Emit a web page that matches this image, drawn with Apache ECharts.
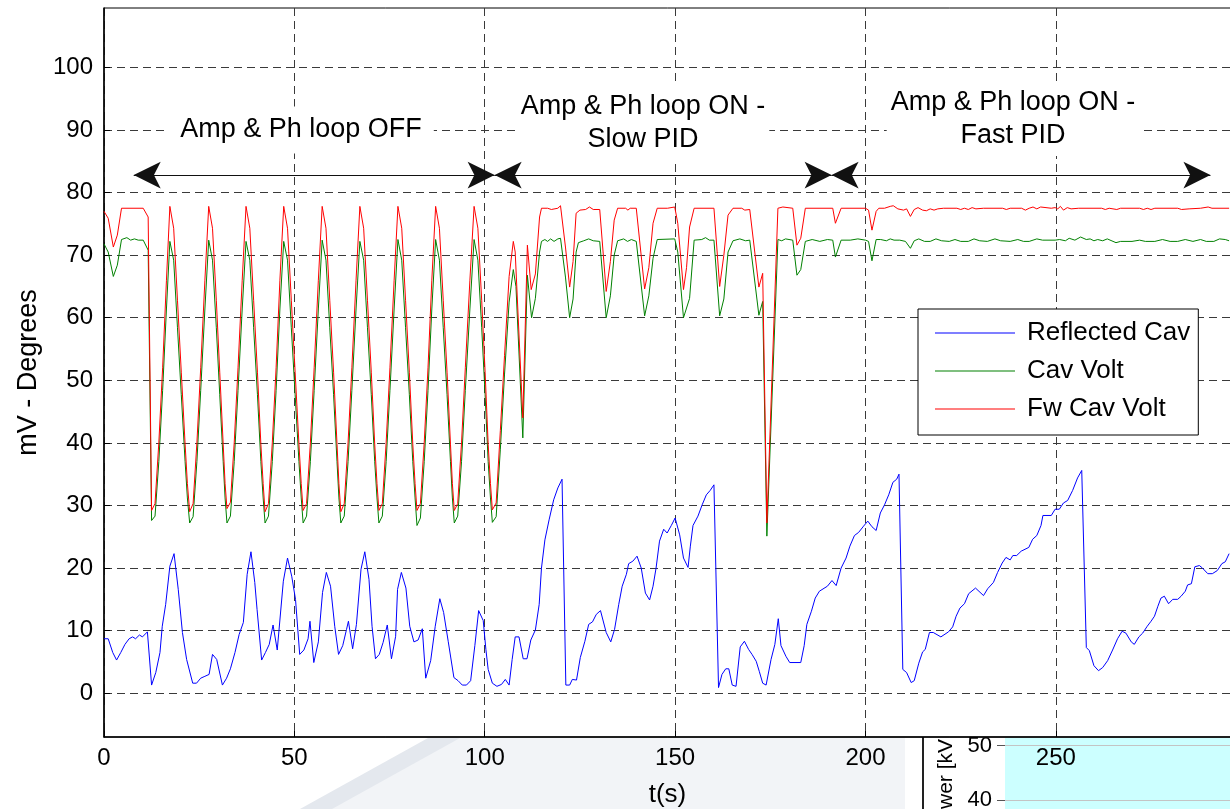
<!DOCTYPE html>
<html>
<head>
<meta charset="utf-8">
<title>Amp & Ph loop</title>
<script src="https://cdn.jsdelivr.net/npm/echarts@6.0.0/dist/echarts.min.js"></script>
<style>
  html, body { margin: 0; padding: 0; background: #fff; }
  #chart { width: 1230px; height: 809px; }
</style>
</head>
<body>
<div id="chart"></div>
<script>
// [t(s), value]
const reflectedCav = [
  [0,8.7],[1.1,8.7],[2.3,6.5],[3.3,5.3],[4.4,6.5],[5.5,7.8],[6.6,8.7],[7.5,9.0],[8.3,8.7],[9.3,9.3],[10.1,9.0],[11.4,9.8],
  [12.5,1.3],[13.6,3.3],[14.7,6.5],[15.3,10.7],[16.2,14.2],[17.3,20.3],[18.4,22.3],[19.5,16.6],[20.6,9.7],[21.7,5.4],
  [23.3,1.6],[24.3,1.6],[25.4,2.4],[26.5,2.7],[27.6,3.0],[28.5,6.2],[29.6,5.4],[31.1,1.3],[32.2,2.4],[33.2,3.9],[34.4,6.5],
  [35.5,9.4],[36.6,11.3],[37.6,19.0],[38.6,22.6],[39.6,17.7],[40.2,13.4],[41.4,5.3],[42.4,6.5],[43.4,7.8],[44.4,10.9],
  [45.5,6.9],[47.1,17.9],[48.2,21.6],[49.3,18.7],[50.3,15.0],[51.4,6.2],[52.5,6.9],[53.6,8.7],[54.1,11.5],[55.1,4.9],
  [56.3,8.2],[57.4,16.1],[58.4,19.3],[59.5,17.1],[60.6,10.7],[61.6,6.2],[62.7,7.6],[63.7,10.2],[64.2,11.5],[65.3,7.1],
  [66.3,11.0],[67.5,19.8],[68.5,22.6],[69.6,18.2],[70.4,10.7],[71.3,5.5],[72.3,6.2],[73.3,8.1],[74.4,10.9],[75.5,5.5],
  [76.6,9.1],[77.1,16.6],[78.1,19.3],[79.3,16.8],[80.3,10.7],[81.4,8.2],[82.5,8.5],[83.6,10.3],[84.5,2.4],[85.8,5.2],
  [87.0,10.7],[88.2,15.1],[89.2,12.9],[90.4,8.3],[91.9,2.5],[93.0,2.0],[94.1,1.3],[95.2,1.3],[96.3,2.0],[97.4,7.6],
  [98.4,13.2],[99.6,11.6],[100.3,7.0],[100.9,3.8],[102.0,1.6],[103.2,1.1],[104.4,1.4],[105.4,2.2],[106.4,1.3],[107.2,5.4],
  [108.0,9.0],[109.0,9.0],[110.1,5.5],[111.1,5.5],[112.1,8.5],[113.3,10.1],[114.3,14.2],[114.9,20.0],[115.8,24.5],
  [116.9,27.7],[118.1,30.9],[119.2,32.8],[120.3,34.2],[121.3,1.3],[122.3,1.3],[123.0,2.2],[124.1,2.1],[125.1,5.7],
  [126.3,8.3],[127.3,11.0],[128.3,11.4],[129.3,12.6],[130.4,13.2],[131.9,9.7],[133.1,8.2],[134.1,10.2],[135.2,14.2],
  [136.1,17.1],[137.2,19.0],[137.8,20.7],[138.9,21.1],[140.0,21.9],[141.1,20.0],[142.2,16.0],[143.3,14.9],[144.2,17.1],
  [145.0,20.0],[145.9,24.3],[147.0,26.2],[147.9,25.6],[149.0,26.8],[150.0,28.0],[151.2,25.3],[152.2,21.6],[153.4,20.1],
  [154.0,23.5],[154.7,26.8],[156.0,28.3],[157.1,30.1],[158.2,31.7],[159.2,32.4],[160.2,33.3],[161.4,0.9],[162.3,3.0],
  [163.3,3.9],[164.1,3.9],[165.0,1.3],[166.0,1.1],[167.1,7.4],[168.2,8.3],[169.3,7.0],[170.2,6.2],[171.3,5.1],[172.1,3.5],
  [173.0,1.6],[173.9,1.3],[175.2,5.4],[176.2,7.8],[177.1,11.9],[177.8,7.6],[179.1,5.9],[180.1,4.9],[183.0,4.9],[183.9,7.6],
  [184.6,11.0],[185.8,13.1],[186.8,15.2],[187.9,16.3],[190.0,17.1],[191.2,18.0],[192.3,17.2],[193.6,20.0],[194.9,21.6],
  [195.9,23.5],[197.1,25.2],[198.2,25.7],[199.5,26.7],[200.6,27.5],[201.7,26.6],[202.8,26.0],[203.9,28.8],[205.0,30.1],
  [206.1,31.7],[207.2,33.7],[208.2,34.2],[208.8,35.0],[209.8,3.8],[210.8,3.3],[212.0,1.7],[212.8,2.0],[214.0,4.8],
  [215.0,6.6],[215.7,7.0],[216.8,9.7],[217.8,9.7],[219.8,9.0],[221.8,9.8],[222.9,10.6],[223.8,12.3],[224.8,13.6],
  [226.0,14.3],[227.1,15.9],[228.9,16.8],[231.0,15.6],[232.1,16.7],[233.6,17.7],[234.7,19.3],[235.9,20.8],[236.9,21.7],
  [238.0,21.3],[238.7,22.0],[239.7,22.0],[240.9,22.7],[242.9,23.3],[243.9,24.6],[245.0,25.2],[246.1,26.8],[246.6,28.4],
  [248.8,28.4],[249.8,29.4],[250.9,29.4],[252.0,30.4],[253.1,30.8],[254.4,32.4],[255.7,34.4],[256.8,35.6],[258.0,7.3],
  [258.8,6.8],[260.0,4.4],[261.2,3.6],[262.3,4.1],[263.6,5.2],[264.9,6.9],[266.2,8.7],[267.4,9.9],[268.4,9.6],[269.8,8.2],
  [270.6,7.8],[271.8,9.0],[272.8,9.6],[274.0,10.7],[275.0,11.5],[275.9,12.3],[276.8,13.9],[277.6,15.2],[278.5,15.5],
  [279.6,14.3],[280.7,15.0],[282.0,15.0],[282.9,15.5],[284.0,16.3],[284.6,17.3],[285.6,17.5],[286.5,20.2],[287.7,20.4],
  [288.5,20.0],[289.9,19.1],[291.1,19.1],[292.4,19.6],[293.6,20.7],[294.5,21.0],[295.5,22.3]
];

const cavVolt = [
  [0,71.8],[1.1,70.5],[2.45,66.6],[3.5,68.4],[4.6,72.5],[6.0,72.8],[7.0,72.4],[8.0,72.6],[9.0,72.4],[10.3,72.4],[11.6,70.8],
  [12.5,27.6],[13.4,28.3],[14.4,37],[15.4,48.4],[16.4,61.4],[17.3,72.2],[18.3,69.2],[19.3,58.4],[20.3,47.7],[21.3,37],[21.9,31.2],
  [22.5,27.2],[23.4,28.2],[24.4,37],[25.4,48.4],[26.5,61.4],[27.5,72.4],[28.5,69.2],[29.5,58.4],[30.4,47.7],[31.3,37],[31.8,31.2],
  [32.3,27.2],[33.2,28.3],[34.2,37],[35.2,48.4],[36.3,61.4],[37.3,72.2],[38.3,69.2],[39.3,58.4],[40.3,47.7],[41.2,37],[41.8,31.2],
  [42.3,27.2],[43.2,28.3],[44.2,37],[45.2,48.4],[46.2,61.4],[47.2,72.2],[48.2,69.2],[49.2,58.4],[50.2,47.7],[51.2,37],[51.8,31.2],
  [52.3,27.2],[53.2,28.3],[54.2,37],[55.2,48.4],[56.3,61.4],[57.3,72.4],[58.3,69.2],[59.3,58.4],[60.3,47.7],[61.2,37],[61.7,31.2],
  [62.2,27.2],[63.1,28.3],[64.1,37],[65.1,48.4],[66.2,61.4],[67.2,72.2],[68.2,69.2],[69.2,58.4],[70.2,47.7],[71.1,37],[71.7,31.2],
  [72.2,27.2],[73.1,28.3],[74.1,37],[75.1,48.4],[76.2,61.4],[77.2,72.5],[78.2,69.2],[79.2,58.4],[80.2,47.7],[81.1,37],[81.7,31.2],
  [82.2,26.8],[83.1,28.0],[84.1,37],[85.1,48.4],[86.1,61.4],[87.1,72.5],[88.1,69.2],[89.1,58.4],[90.1,47.7],[91.0,37],[91.5,31.2],
  [92.0,27.2],[92.9,28.3],[93.9,37],[94.9,48.4],[96.1,61.4],[97.2,72.5],[98.2,69.2],[99.2,58.4],[100.1,47.7],[100.9,37],[101.5,31.2],
  [102.0,27.3],[103.0,28.2],[104.1,39],[105.2,51],[106.4,62.5],[107.5,67.7],[108.2,65.0],[110.0,40.8],[111.2,66.8],
  [112.3,60.0],[113.3,63.1],[114.4,70.5],[114.9,72.2],[115.8,72.5],[116.5,72.2],[117.3,72.6],[118.2,72.2],[119.2,72.6],
  [119.9,72.7],[121.2,66.5],[122.3,60.0],[123.2,63.0],[124.0,70.5],[124.6,72.0],[126.0,72.3],[127.3,72.6],[128.5,72.3],
  [130.2,72.2],[131.9,60.0],[133.0,63.5],[134.0,70.0],[134.9,72.3],[136.5,72.6],[137.5,72.2],[138.5,72.5],[139.8,72.2],
  [142.0,60.3],[143.1,63.5],[144.2,69.5],[145.3,72.5],[149.9,72.6],[150.7,70.5],[152.2,60.0],[153.8,63.1],[155.0,72.4],
  [157.0,72.5],[158.0,72.8],[159.0,72.4],[160.2,72.4],[161.7,60.3],[162.8,63.0],[163.9,70.5],[165.2,72.3],[167.0,72.6],
  [168.5,72.3],[169.6,72.4],[172.0,60.4],[173.0,62.6],[174.1,25.1],[177.0,72.5],[178.0,72.3],[179.0,72.6],[180.9,72.4],
  [182.0,66.8],[183.0,67.7],[184.2,72.2],[186.0,72.5],[188.0,72.2],[190.0,72.5],[191.4,72.4],[192.1,69.7],[193.6,72.4],
  [196.0,72.4],[198.0,72.6],[200.0,72.4],[200.8,72.2],[201.7,69.1],[202.8,72.5],[204.0,72.5],[205.5,72.3],[206.5,72.6],
  [207.5,72.4],[209.0,72.4],[210.5,72.2],[211.8,71.1],[212.8,72.3],[214.0,72.6],[215.5,72.2],[217.0,72.2],[218.5,72.6],
  [220.0,72.3],[222.0,72.2],[223.5,72.5],[225.0,72.2],[227.0,72.2],[228.5,72.6],[230.0,72.3],[232.0,72.2],[234.0,72.6],
  [235.5,72.3],[238.0,72.2],[240.0,72.5],[241.5,72.2],[243.0,72.2],[245.0,72.6],[246.5,72.4],[249.8,72.4],[251.0,72.5],
  [252.5,72.3],[253.5,72.7],[255.0,72.4],[256.5,72.9],[258.0,72.5],[259.0,72.6],[260.0,72.3],[261.0,72.5],[262.3,72.3],
  [263.5,72.6],[265.8,72.0],[267.0,72.2],[270.0,72.2],[272.0,72.4],[273.5,72.2],[276.0,72.2],[278.0,72.5],[280.0,72.2],
  [282.0,72.2],[284.0,72.5],[286.0,72.2],[288.0,72.5],[289.5,72.2],[291.5,72.2],[293.0,72.6],[294.5,72.5],[295.5,72.3]
];

const fwCavVolt = [
  [0,77.0],[1.1,75.9],[2.45,71.3],[3.5,73.2],[4.6,77.5],[10.3,77.5],[11.6,76.1],
  [12.5,29.2],[13.4,30.3],[14.4,40],[15.4,52],[16.4,66],[17.3,77.8],[18.3,74.3],[19.3,62.8],[20.3,51.3],[21.3,39.8],[21.9,33.5],
  [22.5,29.0],[23.4,30.3],[24.4,40],[25.4,52],[26.5,66],[27.5,77.8],[28.5,74.3],[29.5,62.8],[30.4,51.3],[31.3,39.8],[31.8,33.5],
  [32.3,29.5],[33.2,30.5],[34.2,40],[35.2,52],[36.3,66],[37.3,77.8],[38.3,74.3],[39.3,62.8],[40.3,51.3],[41.2,39.8],[41.8,33.5],
  [42.3,29.0],[43.2,30.3],[44.2,40],[45.2,52],[46.2,66],[47.2,77.8],[48.2,74.3],[49.2,62.8],[50.2,51.3],[51.2,39.8],[51.8,33.5],
  [52.3,29.2],[53.2,30.3],[54.2,40],[55.2,52],[56.3,66],[57.3,77.8],[58.3,74.3],[59.3,62.8],[60.3,51.3],[61.2,39.8],[61.7,33.5],
  [62.2,29.0],[63.1,30.3],[64.1,40],[65.1,52],[66.2,66],[67.2,77.8],[68.2,74.3],[69.2,62.8],[70.2,51.3],[71.1,39.8],[71.7,33.5],
  [72.2,29.2],[73.1,30.3],[74.1,40],[75.1,52],[76.2,66],[77.2,77.8],[78.2,74.3],[79.2,62.8],[80.2,51.3],[81.1,39.8],[81.7,33.5],
  [82.2,29.2],[83.1,30.3],[84.1,40],[85.1,52],[86.1,66],[87.1,77.8],[88.1,74.3],[89.1,62.8],[90.1,51.3],[91.0,39.8],[91.5,33.5],
  [92.0,29.2],[92.9,30.3],[93.9,40],[94.9,52],[96.1,66],[97.2,77.8],[98.2,74.3],[99.2,62.8],[100.1,51.3],[100.9,39.8],[101.5,33.5],
  [102.0,29.3],[103.0,30.4],[104.1,42],[105.2,54],[106.4,66.6],[107.5,72.2],[108.0,70.5],[110.0,44.0],[111.2,71.6],
  [112.2,64.5],[113.3,67.0],[114.4,76.1],[114.9,77.5],[116.5,77.5],[117.5,77.3],[119.2,77.5],[119.9,77.9],[121.2,71.3],
  [122.3,64.9],[123.2,69.0],[124.0,76.7],[125.0,77.2],[126.5,77.3],[127.5,77.7],[128.5,77.3],[130.2,77.3],[131.9,64.2],
  [133.0,69.0],[134.0,75.6],[134.9,77.5],[137.0,77.5],[137.6,77.2],[138.2,77.5],[139.8,77.5],[142.0,64.6],[143.1,68.0],
  [144.2,75.1],[145.3,77.5],[148.0,77.5],[149.9,77.7],[150.7,75.1],[152.2,64.5],[153.0,68.0],[153.8,74.5],[155.0,77.5],
  [160.2,77.5],[161.7,65.0],[162.8,70.0],[163.9,76.4],[165.2,77.5],[167.5,77.5],[168.3,77.2],[169.6,77.3],[172.0,64.9],
  [173.0,67.1],[174.1,27.2],[177.0,77.5],[178.3,77.7],[180.9,77.5],[182.0,71.6],[183.0,72.7],[184.2,77.5],[191.4,77.5],
  [192.1,75.1],[193.6,77.5],[200.0,77.5],[200.8,77.2],[201.7,74.0],[202.8,77.0],[203.5,77.5],[205.0,77.5],[206.5,77.8],
  [207.3,77.9],[208.5,77.4],[210.0,77.2],[210.8,77.4],[211.8,76.2],[212.8,77.3],[213.8,77.6],[215.0,77.2],[216.0,77.1],
  [217.0,77.4],[218.0,77.2],[219.0,77.4],[220.5,77.5],[224.0,77.5],[225.0,77.3],[226.0,77.5],[227.0,77.3],[228.0,77.6],
  [229.0,77.4],[231.0,77.5],[236.0,77.5],[237.0,77.3],[238.0,77.5],[241.0,77.5],[242.0,77.2],[243.0,77.5],[244.0,77.7],
  [245.0,77.4],[246.0,77.7],[248.8,77.5],[249.8,77.6],[250.5,77.4],[251.2,77.8],[252.0,77.2],[253.0,77.6],[254.0,77.4],
  [256.0,77.5],[262.0,77.5],[263.0,77.3],[264.0,77.5],[266.0,77.3],[267.0,77.5],[272.0,77.5],[273.0,77.3],[274.0,77.5],
  [275.0,77.3],[276.0,77.5],[282.0,77.5],[283.0,77.3],[285.0,77.4],[288.0,77.5],[290.0,77.7],[291.0,77.5],[295.5,77.5]
];

const yTicks = [0, 10, 20, 30, 40, 50, 60, 70, 80, 90, 100];
const xTicks = [0, 50, 100, 150, 200, 250];

// double arrows marking the three phases, [from t, to t, at value]
const phaseArrows = [
  [7.8, 102.6, 82.8],
  [102.6, 191.1, 82.8],
  [191.1, 290.6, 82.8]
];

const FONT = '"Liberation Sans", Arial, Helvetica, sans-serif';
const gridDash = { color: '#3a3a3a', width: 1, type: [8, 5] };

const chart = echarts.init(document.getElementById('chart'));

const option = {
  animation: false,
  backgroundColor: '#fff',
  textStyle: { fontFamily: FONT },
  grid: {
    left: 104, right: -1, top: 8, bottom: 72,
    outerBoundsMode: 'none',
    containLabel: false,
    show: true, borderColor: '#000', borderWidth: 1
  },
  legend: {
    orient: 'vertical',
    left: 918, top: 309,
    padding: [11, 8, 13, 17],
    icon: 'rect',
    itemWidth: 80, itemHeight: 1.2, itemGap: 12,
    backgroundColor: '#fff',
    borderColor: '#000', borderWidth: 1,
    textStyle: { fontSize: 26, color: '#000', fontFamily: FONT, lineHeight: 26, padding: [0, 0, 0, 7] },
    data: ['Reflected Cav', 'Cav Volt', 'Fw Cav Volt']
  },
  xAxis: {
    type: 'value',
    min: 0, max: 296,
    name: 't(s)', nameLocation: 'middle', nameGap: 45,
    nameTextStyle: { fontSize: 26, color: '#000', fontFamily: FONT },
    axisLine: { onZero: false, lineStyle: { color: '#000', width: 1.5 } },
    axisTick: { inside: true, length: 6, lineStyle: { color: '#000' }, customValues: xTicks },
    axisLabel: { fontSize: 24, color: '#000', margin: 9, fontFamily: FONT, customValues: xTicks },
    splitLine: { show: true, lineStyle: gridDash }
  },
  yAxis: {
    type: 'value',
    min: -7, max: 109.5,
    name: 'mV - Degrees', nameLocation: 'middle', nameGap: 62,
    nameTextStyle: { fontSize: 27, color: '#000', fontFamily: FONT },
    axisLine: { show: true, onZero: false, lineStyle: { color: '#000', width: 1.5 } },
    axisTick: { show: true, inside: true, length: 6, lineStyle: { color: '#000' }, customValues: yTicks },
    axisLabel: { fontSize: 24, color: '#000', margin: 11, fontFamily: FONT, customValues: yTicks },
    splitLine: { show: true, lineStyle: gridDash }
  },
  series: [
    {
      name: 'Reflected Cav', type: 'line', data: reflectedCav,
      symbol: 'none', color: '#0000ff', lineStyle: { width: 1, color: '#0000ff' }, z: 3,
      markLine: {
        silent: true,
        symbol: ['arrow', 'arrow'],
        symbolSize: [20, 27],
        label: { show: false },
        itemStyle: { color: '#000' },
        lineStyle: { color: '#111', width: 1.2, type: 'solid' },
        data: phaseArrows.map(a => [{ coord: [a[0], a[2]] }, { coord: [a[1], a[2]] }])
      }
    },
    {
      name: 'Cav Volt', type: 'line', data: cavVolt,
      symbol: 'none', color: '#008000', lineStyle: { width: 1, color: '#008000' }, z: 4
    },
    {
      name: 'Fw Cav Volt', type: 'line', data: fwCavVolt,
      symbol: 'none', color: '#ff0000', lineStyle: { width: 1, color: '#ff0000' }, z: 5
    }
  ],
  graphic: [
    // faint shape under the axis
    { type: 'polygon', z: -20, silent: true,
      shape: { points: [[322, 809], [450, 738], [905, 738], [905, 809]] },
      style: { fill: '#f2f4f7' } },
    { type: 'polygon', z: -19, silent: true,
      shape: { points: [[300, 809], [332, 809], [460, 738], [428, 738]] },
      style: { fill: '#e4e8ee' } },
    // piece of the figure below
    { type: 'rect', z: -10, silent: true,
      shape: { x: 1005, y: 738, width: 230, height: 75 },
      style: { fill: '#ccffff' } },
    { type: 'line', z: -9, silent: true,
      shape: { x1: 1005, y1: 745.5, x2: 1230, y2: 745.5 }, style: { stroke: '#c4c4c4', lineWidth: 1 } },
    { type: 'line', z: -9, silent: true,
      shape: { x1: 1005, y1: 800.5, x2: 1230, y2: 800.5 }, style: { stroke: '#c4c4c4', lineWidth: 1 } },
    { type: 'line', z: -9, silent: true,
      shape: { x1: 997, y1: 745.5, x2: 1005, y2: 745.5 }, style: { stroke: '#555', lineWidth: 1 } },
    { type: 'line', z: -9, silent: true,
      shape: { x1: 997, y1: 800.5, x2: 1005, y2: 800.5 }, style: { stroke: '#555', lineWidth: 1 } },
    { type: 'line', z: -9, silent: true,
      shape: { x1: 923, y1: 737, x2: 923, y2: 809 }, style: { stroke: '#222', lineWidth: 2 } },
    { type: 'text', z: -9, silent: true, x: 992, y: 746,
      style: { text: '50', font: '22px ' + FONT, fill: '#000', align: 'right', verticalAlign: 'middle' } },
    { type: 'text', z: -9, silent: true, x: 992, y: 800,
      style: { text: '40', font: '22px ' + FONT, fill: '#000', align: 'right', verticalAlign: 'middle' } },
    { type: 'text', z: -9, silent: true, x: 946, y: 739, rotation: Math.PI / 2,
      style: { text: 'ower [kV', font: '21px ' + FONT, fill: '#000', align: 'right', verticalAlign: 'middle' } },
    // phase annotations
    { type: 'text', z: 100, silent: true, x: 301, y: 130,
      style: { text: 'Amp & Ph loop OFF', font: '27px ' + FONT, fill: '#000', align: 'center', verticalAlign: 'middle',
               backgroundColor: '#fff', padding: [10, 12] } },
    { type: 'text', z: 100, silent: true, x: 643, y: 123,
      style: { text: 'Amp & Ph loop ON -\nSlow PID', font: '27px ' + FONT, fill: '#000', align: 'center', verticalAlign: 'middle',
               lineHeight: 33, backgroundColor: '#fff', padding: [4, 4] } },
    { type: 'text', z: 100, silent: true, x: 1013, y: 119,
      style: { text: 'Amp & Ph loop ON -\nFast PID', font: '27px ' + FONT, fill: '#000', align: 'center', verticalAlign: 'middle',
               lineHeight: 33, backgroundColor: '#fff', padding: [4, 4] } }
  ]
};

chart.setOption(option);
</script>
</body>
</html>
